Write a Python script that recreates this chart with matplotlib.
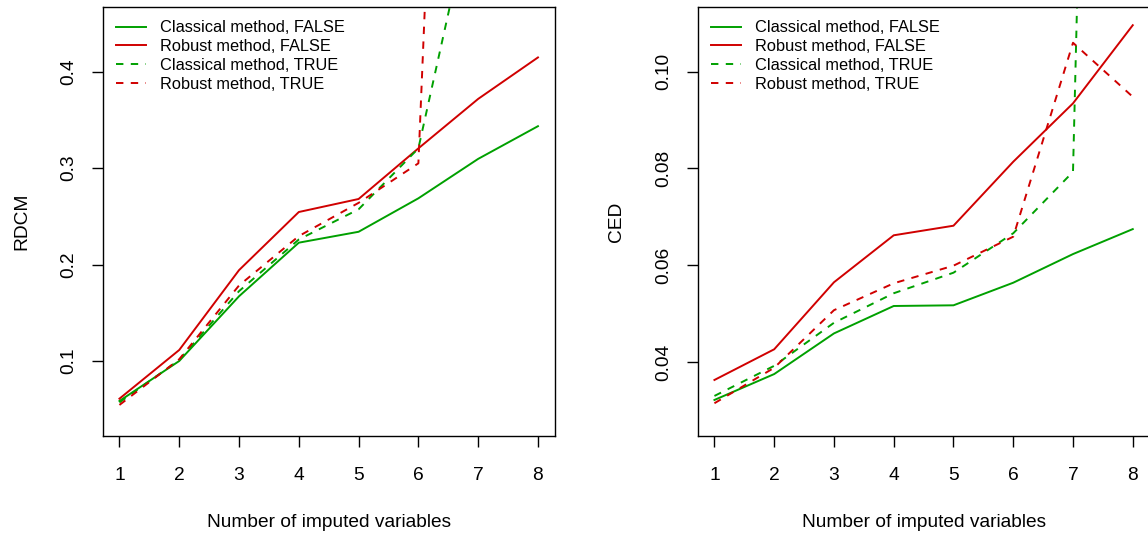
import matplotlib
matplotlib.use("Agg")
import matplotlib.pyplot as plt

plt.rcParams['font.family'] = ['Liberation Sans', 'DejaVu Sans']

x_vals = [1, 2, 3, 4, 5, 6, 7, 8]
x_ticks = [1, 2, 3, 4, 5, 6, 7, 8]
series_labels = ["Classical method, FALSE", "Robust method, FALSE",
                 "Classical method, TRUE", "Robust method, TRUE"]

# RDCM panel
rdcm_classical_false = [0.0585, 0.1000, 0.1671, 0.2227, 0.2340, 0.2687, 0.3096, 0.3435]
rdcm_robust_false    = [0.0609, 0.1114, 0.1942, 0.2545, 0.2680, 0.3205, 0.3718, 0.4148]
rdcm_classical_true  = [0.0570, 0.1010, 0.1724, 0.2260, 0.2573, 0.3205, 0.6000, 0.9000]
rdcm_robust_true     = [0.0544, 0.1018, 0.1783, 0.2295, 0.2640, 0.3050, 1.8000, 2.5000]
rdcm_yticks = [0.1, 0.2, 0.3, 0.4]
rdcm_yticklabels = ["0.1", "0.2", "0.3", "0.4"]
rdcm_ylim = (0.0222, 0.4668)

# CED panel
ced_classical_false = [0.03215, 0.0375, 0.0459, 0.05157, 0.05171, 0.05638, 0.0623, 0.06746]
ced_robust_false    = [0.03628, 0.04262, 0.05647, 0.06618, 0.06816, 0.08138, 0.09345, 0.1096]
ced_classical_true  = [0.03298, 0.0392, 0.0481, 0.0542, 0.05845, 0.0666, 0.0793, 0.5900]
ced_robust_true     = [0.03147, 0.0388, 0.0507, 0.05626, 0.0599, 0.06589, 0.10597, 0.0948]
ced_yticks = [0.04, 0.06, 0.08, 0.10]
ced_yticklabels = ["0.04", "0.06", "0.08", "0.10"]
ced_ylim = (0.0247, 0.1133)

GREEN = "#00A000"
RED = "#D00000"
styles = [(GREEN, '-'), (RED, '-'), (GREEN, '--'), (RED, '--')]

fig = plt.figure(figsize=(11.48, 5.34), dpi=100)
ax1 = fig.add_axes([102.7/1148, 1-436/534, (554.7-102.7)/1148, (436-7.3)/534])
ax2 = fig.add_axes([697.7/1148, 1-436/534, (1149.5-697.7)/1148, (436-7.3)/534])

panels = [
    (ax1, [rdcm_classical_false, rdcm_robust_false, rdcm_classical_true, rdcm_robust_true],
     "RDCM", rdcm_yticks, rdcm_yticklabels, rdcm_ylim),
    (ax2, [ced_classical_false, ced_robust_false, ced_classical_true, ced_robust_true],
     "CED", ced_yticks, ced_yticklabels, ced_ylim),
]

FS = 13.8
for ax, data, ylabel, yt, ytl, ylim in panels:
    for vals, lab, (c, ls) in zip(data, series_labels, styles):
        line, = ax.plot(x_vals, vals, color=c, linestyle=ls, lw=1.4, label=lab)
        if ls == '--':
            line.set_dashes((3.8, 3.8))
    ax.set_xlim(0.72, 8.28)
    ax.set_ylim(*ylim)
    ax.set_xticks(x_ticks)
    ax.set_xticklabels([str(t) for t in x_ticks])
    ax.set_yticks(yt)
    ax.set_yticklabels(ytl, rotation=90, va='center')
    for s in ax.spines.values():
        s.set_linewidth(1.0)
        s.set_color('black')
    ax.tick_params(direction='out', length=8, width=1.0, labelsize=FS, color='black')
    ax.tick_params(axis='x', pad=14)
    ax.tick_params(axis='y', pad=10)
    ax.set_xlabel("Number of imputed variables", fontsize=FS, labelpad=22)
    ax.set_ylabel(ylabel, fontsize=FS, labelpad=22)
    leg = ax.legend(loc='upper left', bbox_to_anchor=(0.0, 1.0), frameon=False,
                    fontsize=11.75, handlelength=1.85, handletextpad=0.86,
                    labelspacing=0.23, borderaxespad=0.5, borderpad=0.3)

fig.savefig("out.png", dpi=100)
